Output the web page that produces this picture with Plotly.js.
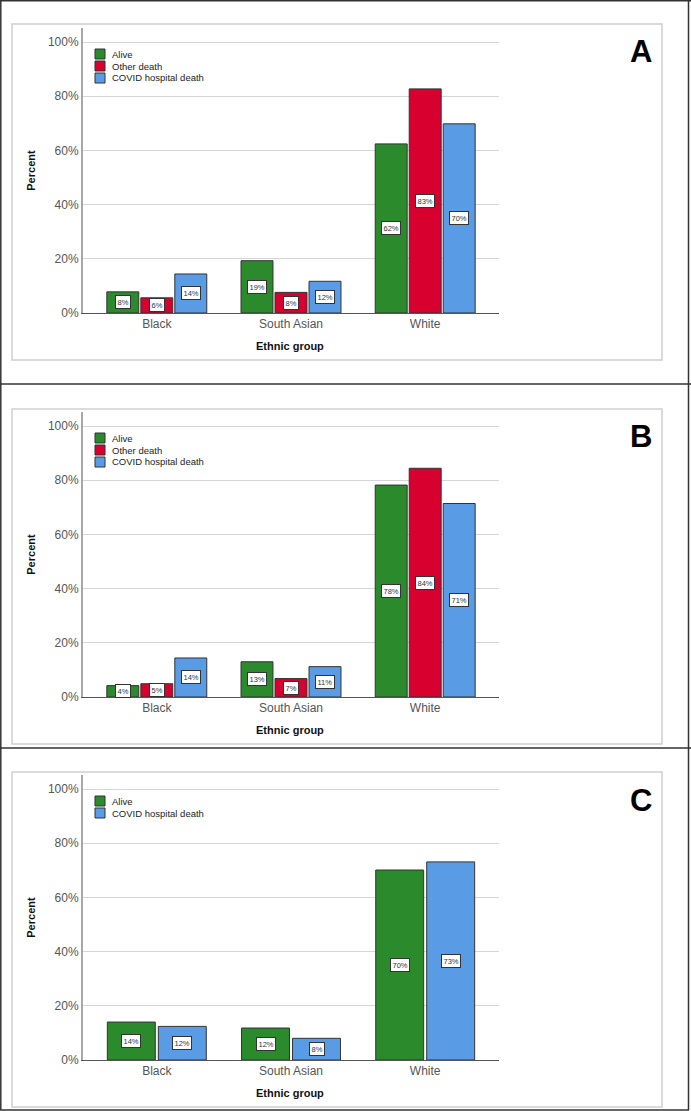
<!DOCTYPE html>
<html>
<head>
<meta charset="utf-8">
<script src="https://cdn.plot.ly/plotly-3.0.1.min.js"></script>
<style>html,body{margin:0;padding:0;background:#fff;}#chart{width:691px;height:1111px;}</style>
</head>
<body>
<div id="chart"></div>
<script>
// ---- Data ----
const categories = ['Black', 'South Asian', 'White'];
const seriesNames = ['Alive', 'Other death', 'COVID hospital death'];
const seriesColors = ['#2b8a2b', '#d7002f', '#5a9be6'];

const A_alive = [7.8, 19.3, 62.4];
const A_other = [5.6, 7.6, 82.7];
const A_covid = [14.4, 11.7, 69.8];

const B_alive = [4.2, 13.0, 78.2];
const B_other = [4.9, 6.8, 84.4];
const B_covid = [14.4, 11.2, 71.4];

const C_alive = [14.0, 11.8, 70.1];
const C_covid = [12.4, 8.0, 73.1];

const yTickVals = [0, 20, 40, 60, 80, 100];
const yTickText = ['0%', '20%', '40%', '60%', '80%', '100%'];
const panelLetters = ['A', 'B', 'C'];
const xAxisTitle = 'Ethnic group';
const yAxisTitle = 'Percent';

// ---- Layout helpers ----
const W = 691, H = 1111;
const px = x => x / W;
const py = y => 1 - y / H;
const FONT = 'Liberation Sans, Arial, sans-serif';
const YMAX = 105;
const BARGAP = 0.24, BARGROUPGAP = 0.06;

const panels = [
  {letter: panelLetters[0], zero: 313, box: [12, 24, 662, 360], letterY: 52,
   series: [[0, A_alive], [1, A_other], [2, A_covid]]},
  {letter: panelLetters[1], zero: 697, box: [12, 409, 662, 744], letterY: 437,
   series: [[0, B_alive], [1, B_other], [2, B_covid]]},
  {letter: panelLetters[2], zero: 1060, box: [12, 772, 662, 1107], letterY: 800,
   series: [[0, C_alive], [2, C_covid]]}
];
const pxPerUnit = 2.71; // pixels per percent
const plotX0 = 83, plotX1 = 499;

const traces = [];
const shapes = [];
const annotations = [];
const layout = {
  width: W, height: H,
  margin: {l: 0, r: 0, t: 0, b: 0},
  paper_bgcolor: '#fff', plot_bgcolor: 'rgba(0,0,0,0)',
  showlegend: false,
  barmode: 'group', bargap: BARGAP, bargroupgap: BARGROUPGAP,
  font: {family: FONT}
};

// outer frame lines
const dark = {color: '#333', width: 1.5};
shapes.push({type: 'line', xref: 'paper', yref: 'paper', x0: px(0.8), x1: px(0.8), y0: py(0), y1: py(1110), line: dark});
shapes.push({type: 'line', xref: 'paper', yref: 'paper', x0: px(688.5), x1: px(688.5), y0: py(0), y1: py(1110), line: dark});
shapes.push({type: 'line', xref: 'paper', yref: 'paper', x0: 0, x1: 1, y0: py(0.8), y1: py(0.8), line: dark});
shapes.push({type: 'line', xref: 'paper', yref: 'paper', x0: 0, x1: 1, y0: py(384), y1: py(384), line: dark});
shapes.push({type: 'line', xref: 'paper', yref: 'paper', x0: 0, x1: 1, y0: py(748), y1: py(748), line: dark});
shapes.push({type: 'line', xref: 'paper', yref: 'paper', x0: 0, x1: px(689), y0: py(1110), y1: py(1110), line: dark});

panels.forEach((p, k) => {
  const sfx = k === 0 ? '' : String(k + 1);
  const xa = 'x' + sfx, ya = 'y' + sfx;
  const top = p.zero - YMAX * pxPerUnit;

  // light grey panel box
  shapes.push({type: 'rect', xref: 'paper', yref: 'paper', x0: px(p.box[0]), x1: px(p.box[2]),
    y0: py(p.box[3]), y1: py(p.box[1]), line: {color: '#cfcfcf', width: 1.5}, fillcolor: 'rgba(0,0,0,0)', layer: 'below'});

  layout['xaxis' + sfx] = {
    domain: [px(plotX0), px(plotX1)], anchor: ya, type: 'category',
    range: [-0.55, 2.55], showgrid: false, zeroline: false,
    showline: true, linecolor: '#555', linewidth: 1, ticks: '',
    tickfont: {size: 12, color: '#555', family: FONT}, fixedrange: true
  };
  layout['yaxis' + sfx] = {
    domain: [py(p.zero), py(top)], anchor: xa, range: [0, YMAX],
    tickmode: 'array', tickvals: yTickVals, ticktext: yTickText,
    showgrid: true, gridcolor: '#d6d6d6', gridwidth: 1,
    zeroline: false, showline: true, linecolor: '#a8a8a8', linewidth: 2, ticks: '',
    tickfont: {size: 12, color: '#555', family: FONT}, fixedrange: true
  };

  const n = p.series.length;
  const slot = (1 - BARGAP) / n;
  p.series.forEach(([si, vals], i) => {
    traces.push({
      type: 'bar', x: categories, y: vals, name: seriesNames[si],
      xaxis: xa, yaxis: ya,
      marker: {color: seriesColors[si], line: {color: '#333', width: 1}},
      hoverinfo: 'skip'
    });
    const off = -(1 - BARGAP) / 2 + slot * (i + 0.5);
    vals.forEach((v, ci) => {
      annotations.push({
        xref: xa, yref: ya, x: ci + off, y: v / 2, text: Math.round(v) + '%',
        xanchor: 'center', yanchor: 'middle',
        showarrow: false, bgcolor: '#fff', bordercolor: '#333', borderwidth: 1, borderpad: 1.5,
        font: {size: 7.5, color: '#333', family: FONT}
      });
    });

    // custom legend entry
    const rowY = p.zero - 100 * pxPerUnit + 12 + i * 12;
    shapes.push({type: 'rect', xref: 'paper', yref: 'paper', x0: px(95), x1: px(105),
      y0: py(rowY + 5), y1: py(rowY - 5), fillcolor: seriesColors[si], line: {color: '#333', width: 1}});
    annotations.push({xref: 'paper', yref: 'paper', x: px(110), y: py(rowY), xanchor: 'left', yanchor: 'middle',
      text: seriesNames[si], showarrow: false, font: {size: 9.5, color: '#222', family: FONT}});
  });

  // axis titles
  annotations.push({xref: 'paper', yref: 'paper', x: px((plotX0 + plotX1) / 2 - 1), y: py(p.zero + 33),
    xanchor: 'center', yanchor: 'middle',
    text: '<b>' + xAxisTitle + '</b>', showarrow: false, font: {size: 11, color: '#111', family: FONT}});
  annotations.push({xref: 'paper', yref: 'paper', x: px(31), y: py((p.zero + top) / 2),
    xanchor: 'center', yanchor: 'middle',
    text: '<b>' + yAxisTitle + '</b>', textangle: -90, showarrow: false, font: {size: 11, color: '#111', family: FONT}});
  // panel letter
  annotations.push({xref: 'paper', yref: 'paper', x: px(641), y: py(p.letterY),
    xanchor: 'center', yanchor: 'middle',
    text: '<b>' + p.letter + '</b>', showarrow: false, font: {size: 31, color: '#000', family: FONT}});
});

layout.shapes = shapes;
layout.annotations = annotations;

Plotly.newPlot('chart', traces, layout, {staticPlot: true, displayModeBar: false});
</script>
</body>
</html>
